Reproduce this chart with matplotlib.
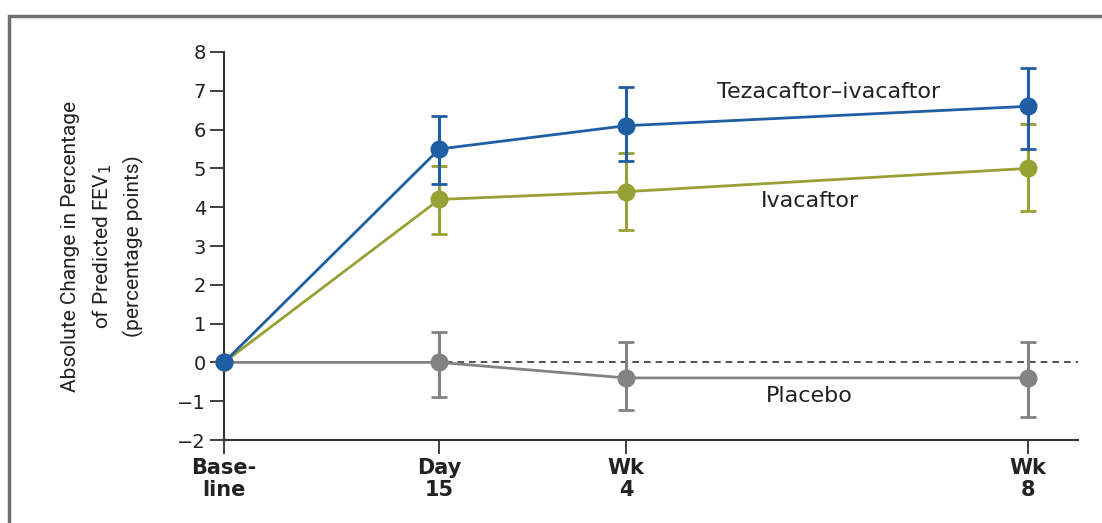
import matplotlib.pyplot as plt
from matplotlib.patches import Rectangle

# study visits, in days from baseline
visit_days = [0, 15, 28, 56]
visit_labels = ['Base-\nline', 'Day\n15', 'Wk\n4', 'Wk\n8']

# mean absolute change in percent predicted FEV1, with 95% CI bounds
teza_mean = [0.0, 5.5, 6.1, 6.6]
teza_low = [0.0, 4.6, 5.2, 5.5]
teza_high = [0.0, 6.35, 7.1, 7.6]

iva_mean = [0.0, 4.2, 4.4, 5.0]
iva_low = [0.0, 3.3, 3.4, 3.9]
iva_high = [0.0, 5.05, 5.4, 6.15]

plac_mean = [0.0, 0.0, -0.4, -0.4]
plac_low = [0.0, -0.88, -1.23, -1.4]
plac_high = [0.0, 0.78, 0.52, 0.52]

BLUE = '#1f5ea3'
OLIVE = '#98a136'
GRAY = '#838383'

fig = plt.figure(figsize=(11.02, 5.23), dpi=100)
ax = fig.add_axes([224 / 1102, 1 - 440 / 523, (1078 - 224) / 1102, (440 - 52) / 523])

# outer frame around the figure
fig.patches.append(Rectangle((9 / 1102, -0.2), 1.2, 1.2 - 16 / 523,
                             transform=fig.transFigure, fill=False,
                             edgecolor='#707070', linewidth=2.5))

ax.axhline(0, color='#333333', linestyle=(0, (4, 3)), linewidth=1.2, zorder=1)


def draw_series(mean, low, high, color, z):
    xs = visit_days[1:]
    m = mean[1:]
    err = [[a - b for a, b in zip(m, low[1:])], [b - a for a, b in zip(m, high[1:])]]
    ax.errorbar(xs, m, yerr=err, fmt='none', ecolor=color, elinewidth=2.2,
                capsize=5.5, capthick=2.0, zorder=z)
    ax.plot(visit_days, mean, color=color, linewidth=2.0, marker='o',
            markersize=13, markeredgewidth=0, zorder=z + 0.5, clip_on=False)


draw_series(plac_mean, plac_low, plac_high, GRAY, 2)
draw_series(iva_mean, iva_low, iva_high, OLIVE, 3)
draw_series(teza_mean, teza_low, teza_high, BLUE, 4)

label_font = dict(fontsize=16, color='#222222', family='DejaVu Sans', ha='center', va='center')
ax.text(42.1, 6.97, 'Tezacaftor\u2013ivacaftor', **label_font)
ax.text(40.8, 4.16, 'Ivacaftor', **label_font)
ax.text(40.8, -0.86, 'Placebo', **label_font)

ax.set_xlim(0, 59.5)
ax.set_ylim(-2, 8)
ax.set_yticks(range(-2, 9))
ax.set_yticklabels([str(v).replace('-', '\u2212') for v in range(-2, 9)],
                   fontsize=14, color='#222222')
ax.set_xticks(visit_days)
ax.set_xticklabels(visit_labels, fontsize=15, fontweight='bold',
                   linespacing=1.1, color='#222222')

for side in ['top', 'right']:
    ax.spines[side].set_visible(False)
for side in ['left', 'bottom']:
    ax.spines[side].set_color('#333333')
    ax.spines[side].set_linewidth(1.5)
ax.tick_params(axis='y', length=10, width=1.3, color='#333333', pad=3)
ax.tick_params(axis='x', length=10, width=1.3, color='#333333', pad=3)

ax.set_ylabel('Absolute Change in Percentage\nof Predicted FEV$_1$\n(percentage points)',
              fontsize=15, family='Roboto', color='#222222',
              linespacing=1.55, labelpad=24)

fig.savefig('out.png', dpi=100)
